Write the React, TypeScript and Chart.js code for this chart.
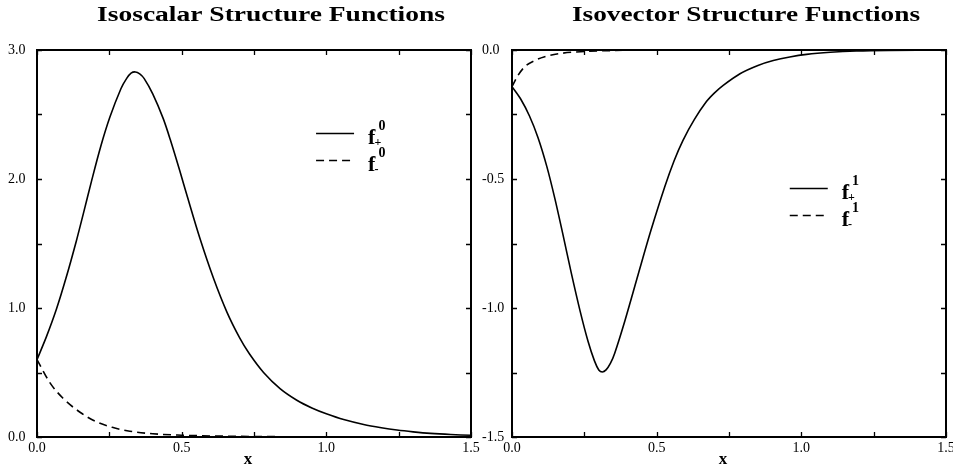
import { useEffect, useRef } from "react";
import { Chart, registerables } from "chart.js";

Chart.register(...registerables);

// ---------- data ----------
const leftPlusX = [0, 0.033, 0.067, 0.1, 0.136, 0.16, 0.188, 0.22, 0.252, 0.29, 0.31, 0.325, 0.34, 0.355, 0.37, 0.4, 0.436, 0.46, 0.494, 0.52, 0.563, 0.61, 0.656, 0.7, 0.734, 0.783, 0.84, 0.898, 0.95, 1.0, 1.06, 1.129, 1.19, 1.244, 1.3, 1.36, 1.43, 1.5];
const leftPlusY = [0.6, 0.78, 0.99, 1.23, 1.52, 1.73, 1.98, 2.25, 2.48, 2.7, 2.78, 2.82, 2.83, 2.815, 2.78, 2.66, 2.47, 2.31, 2.06, 1.86, 1.54, 1.23, 0.97, 0.77, 0.645, 0.5, 0.375, 0.285, 0.225, 0.18, 0.135, 0.097, 0.072, 0.054, 0.04, 0.028, 0.019, 0.013];
const leftMinusX = [0, 0.045, 0.09, 0.15, 0.206, 0.26, 0.321, 0.4, 0.5, 0.6, 0.8, 1.0, 1.5];
const leftMinusY = [0.6, 0.42, 0.3, 0.19, 0.117, 0.075, 0.045, 0.025, 0.014, 0.008, 0.003, 0.001, 0.0];

const rightPlusX = [0, 0.03, 0.06, 0.09, 0.12, 0.148, 0.175, 0.205, 0.235, 0.263, 0.285, 0.3, 0.312, 0.325, 0.34, 0.355, 0.39, 0.436, 0.48, 0.528, 0.56, 0.591, 0.63, 0.672, 0.7, 0.73, 0.788, 0.85, 0.903, 0.96, 1.018, 1.1, 1.19, 1.3, 1.5];
const rightPlusY = [-0.142, -0.19, -0.255, -0.34, -0.45, -0.575, -0.71, -0.865, -1.01, -1.13, -1.205, -1.24, -1.248, -1.24, -1.215, -1.175, -1.05, -0.87, -0.7, -0.53, -0.43, -0.35, -0.27, -0.2, -0.166, -0.137, -0.092, -0.06, -0.041, -0.027, -0.017, -0.009, -0.004, -0.0015, 0.0];
const rightMinusX = [0, 0.02, 0.044, 0.08, 0.113, 0.17, 0.25, 0.35, 0.5, 1.5];
const rightMinusY = [-0.142, -0.1, -0.065, -0.04, -0.026, -0.013, -0.006, -0.002, 0.0, 0.0];

const xTickValues = [0, 0.5, 1.0, 1.5];
const leftYTickValues = [0, 1, 2, 3];
const rightYTickValues = [-1.5, -1.0, -0.5, 0];

const leftTitle = "Isoscalar Structure Functions";
const rightTitle = "Isovector Structure Functions";
const xAxisTitle = "x";
const legendSubs = ["+", "-"];
const leftLegendSup = "0";
const rightLegendSup = "1";

// ---------- styling ----------
const FONT = '"Liberation Serif", "Times New Roman", serif';

const zip = (xs: number[], ys: number[]) => xs.map((x, i) => ({ x, y: ys[i] }));

const framePlugin = {
  id: "frame",
  afterDatasetsDraw(chart: any, _a: any, o: any) {
    const { ctx, chartArea: a, scales } = chart;
    const xs = scales.x;
    const ys = scales.y;
    ctx.save();
    ctx.strokeStyle = "#000";
    ctx.lineWidth = 1.3;
    const len = 5;
    ctx.beginPath();
    for (let v = xs.min; v <= xs.max + 1e-9; v += o.xStep) {
      const px = Math.round(xs.getPixelForValue(v)) + 0.5;
      ctx.moveTo(px, a.top);
      ctx.lineTo(px, a.top + len);
      ctx.moveTo(px, a.bottom);
      ctx.lineTo(px, a.bottom - len);
    }
    for (let v = ys.min; v <= ys.max + 1e-9; v += o.yStep) {
      const py = Math.round(ys.getPixelForValue(v)) + 0.5;
      ctx.moveTo(a.left, py);
      ctx.lineTo(a.left + len, py);
      ctx.moveTo(a.right, py);
      ctx.lineTo(a.right - len, py);
    }
    ctx.stroke();
    ctx.lineWidth = 2;
    ctx.strokeRect(a.left, a.top, a.right - a.left, a.bottom - a.top);
    ctx.restore();
  },
};

const textPlugin = {
  id: "panelText",
  afterDraw(chart: any, _a: any, o: any) {
    const { ctx, chartArea: a } = chart;
    ctx.save();
    ctx.fillStyle = "#000";
    ctx.strokeStyle = "#000";
    // title (wide bold serif)
    ctx.font = `bold 20px ${FONT}`;
    const w = ctx.measureText(o.title).width;
    const sx = o.titleWidth / w;
    ctx.save();
    ctx.translate((a.left + a.right) / 2 + o.titleShift, 16);
    ctx.scale(sx, 1);
    ctx.textAlign = "center";
    ctx.textBaseline = "middle";
    ctx.fillText(o.title, 0, 0);
    ctx.restore();
    // x-axis title
    ctx.font = `bold 17px ${FONT}`;
    ctx.textAlign = "center";
    ctx.textBaseline = "middle";
    ctx.fillText(xAxisTitle, (a.left + a.right) / 2 - 6, 460);
    // legend
    const lx = a.left + o.legendX * (a.right - a.left);
    const ly0 = a.top + o.legendY * (a.bottom - a.top);
    o.items.forEach((it: any, i: number) => {
      const ly = Math.round(ly0 + i * 27) + 0.5;
      ctx.beginPath();
      ctx.lineWidth = 1.6;
      ctx.setLineDash(it.dash);
      ctx.moveTo(lx, ly);
      ctx.lineTo(lx + 38, ly);
      ctx.stroke();
      ctx.setLineDash([]);
      ctx.textAlign = "left";
      ctx.textBaseline = "alphabetic";
      ctx.font = `bold 22px ${FONT}`;
      const fx = lx + 52;
      ctx.fillText("f", fx, ly + 10);
      const fw = ctx.measureText("f").width;
      ctx.font = `bold 12px ${FONT}`;
      ctx.fillText(it.sub, fx + fw - 1, ly + 12);
      ctx.font = `bold 14px ${FONT}`;
      ctx.fillText(it.sup, fx + fw + 3, ly - 4);
    });
    ctx.restore();
  },
};

function makeConfig(opts: {
  plusX: number[]; plusY: number[]; minusX: number[]; minusY: number[];
  yMin: number; yMax: number; yTicks: number[]; yStep: number;
  padLeft: number; padRight: number; yWidth: number;
  title: string; legendX: number; legendY: number; sup: string;
}): any {
  const tickFont = { family: FONT, size: 14 };
  return {
    type: "line",
    data: {
      datasets: [
        {
          data: zip(opts.plusX, opts.plusY),
          borderColor: "#000",
          borderWidth: 1.6,
          pointRadius: 0,
          fill: false,
          tension: 0.3,
        },
        {
          data: zip(opts.minusX, opts.minusY),
          borderColor: "#000",
          borderWidth: 1.6,
          borderDash: [8, 5],
          pointRadius: 0,
          fill: false,
          cubicInterpolationMode: "monotone",
        },
      ],
    },
    options: {
      animation: false,
      responsive: false,
      devicePixelRatio: 1,
      layout: { padding: { top: 50, left: opts.padLeft, right: opts.padRight, bottom: 0 } },
      scales: {
        x: {
          type: "linear",
          min: 0,
          max: 1.5,
          afterBuildTicks: (s: any) => { s.ticks = xTickValues.map((v) => ({ value: v })); },
          afterFit: (s: any) => { s.height = 31; },
          ticks: {
            font: tickFont,
            color: "#000",
            padding: 3,
            maxRotation: 0,
            autoSkip: false,
            callback: (v: any) => Number(v).toFixed(1),
          },
          grid: { display: false, drawTicks: false },
          border: { display: false },
        },
        y: {
          type: "linear",
          min: opts.yMin,
          max: opts.yMax,
          afterBuildTicks: (s: any) => { s.ticks = opts.yTicks.map((v) => ({ value: v })); },
          afterFit: (s: any) => { s.width = opts.yWidth; },
          ticks: {
            font: tickFont,
            color: "#000",
            crossAlign: "far",
            autoSkip: false,
            callback: (v: any) => Number(v).toFixed(1),
          },
          grid: { display: false, drawTicks: false },
          border: { display: false },
        },
      },
      plugins: {
        legend: { display: false },
        tooltip: { enabled: false },
        title: { display: false },
        frame: { xStep: 0.25, yStep: opts.yStep },
        panelText: {
          title: opts.title,
          titleWidth: 348,
          titleShift: 17,
          legendX: opts.legendX,
          legendY: opts.legendY,
          items: [
            { dash: [], sub: legendSubs[0], sup: opts.sup },
            { dash: [8, 5], sub: legendSubs[1], sup: opts.sup },
          ],
        },
      },
    },
    plugins: [framePlugin, textPlugin],
  };
}

export default function App() {
  const leftRef = useRef<HTMLCanvasElement | null>(null);
  const rightRef = useRef<HTMLCanvasElement | null>(null);

  useEffect(() => {
    const left = new Chart(
      leftRef.current as HTMLCanvasElement,
      makeConfig({
        plusX: leftPlusX, plusY: leftPlusY, minusX: leftMinusX, minusY: leftMinusY,
        yMin: 0, yMax: 3, yTicks: leftYTickValues, yStep: 0.5,
        padLeft: 8, padRight: 29, yWidth: 29,
        title: leftTitle, legendX: 0.643, legendY: 0.214, sup: leftLegendSup,
      })
    );
    const right = new Chart(
      rightRef.current as HTMLCanvasElement,
      makeConfig({
        plusX: rightPlusX, plusY: rightPlusY, minusX: rightMinusX, minusY: rightMinusY,
        yMin: -1.5, yMax: 0, yTicks: rightYTickValues, yStep: 0.25,
        padLeft: 6, padRight: 24, yWidth: 30,
        title: rightTitle, legendX: 0.64, legendY: 0.357, sup: rightLegendSup,
      })
    );
    return () => {
      left.destroy();
      right.destroy();
    };
  }, []);

  return (
    <div style={{ position: "absolute", left: 0, top: 0, width: 953, height: 468, background: "#fff", overflow: "hidden" }}>
      <canvas ref={leftRef} width={500} height={468} style={{ position: "absolute", left: 0, top: 0 }} />
      <canvas ref={rightRef} width={494} height={468} style={{ position: "absolute", left: 476, top: 0 }} />
    </div>
  );
}
